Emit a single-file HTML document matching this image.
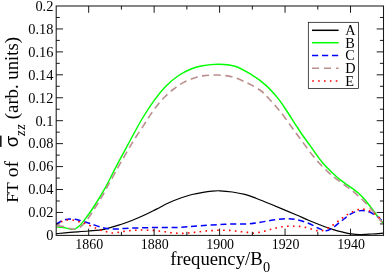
<!DOCTYPE html>
<html><head><meta charset="utf-8"><title>plot</title>
<style>
html,body{margin:0;padding:0;background:#fff;}
body{width:385px;height:273px;overflow:hidden;}
svg{display:block;font-family:"Liberation Serif",serif;}
</style></head>
<body>
<svg width="385" height="273" viewBox="0 0 385 273">
<rect width="385" height="273" fill="#fff"/>
<g fill="none" stroke-linejoin="round">
<path d="M56.20 233.70 C58.50 233.48 64.63 232.85 70.00 232.40 C75.37 231.95 82.73 231.52 88.40 231.00 C94.07 230.48 98.48 230.43 104.00 229.30 C109.52 228.17 116.67 225.75 121.50 224.20 C126.33 222.65 129.25 221.48 133.00 220.00 C136.75 218.52 140.08 217.12 144.00 215.30 C147.92 213.48 152.35 211.18 156.50 209.10 C160.65 207.02 164.75 204.68 168.90 202.80 C173.05 200.92 177.55 199.18 181.40 197.80 C185.25 196.42 188.40 195.42 192.00 194.50 C195.60 193.58 199.67 192.87 203.00 192.30 C206.33 191.73 209.18 191.35 212.00 191.10 C214.82 190.85 216.52 190.65 219.90 190.80 C223.28 190.95 228.15 191.40 232.30 192.00 C236.45 192.60 240.85 193.37 244.80 194.40 C248.75 195.43 251.63 196.57 256.00 198.20 C260.37 199.83 264.33 201.43 271.00 204.20 C277.67 206.97 289.75 212.13 296.00 214.80 C302.25 217.47 304.33 218.47 308.50 220.20 C312.67 221.93 316.85 223.63 321.00 225.20 C325.15 226.77 329.57 228.40 333.40 229.60 C337.23 230.80 341.12 231.70 344.00 232.40 C346.88 233.10 348.13 233.43 350.70 233.80 C353.27 234.17 355.85 234.57 359.40 234.60 C362.95 234.63 367.98 234.23 372.00 234.00 C376.02 233.77 381.58 233.33 383.50 233.20" stroke="#000" stroke-width="1.2"/>
<path d="M56.80 227.00 C57.67 227.05 60.22 227.07 62.00 227.30 C63.78 227.53 65.57 228.07 67.50 228.40 C69.43 228.73 71.63 229.70 73.60 229.30 C75.57 228.90 77.43 227.63 79.30 226.00 C81.17 224.37 82.52 222.50 84.80 219.50 C87.08 216.50 89.67 213.15 93.00 208.00 C96.33 202.85 100.90 195.57 104.80 188.60 C108.70 181.63 112.13 174.30 116.40 166.20 C120.67 158.10 126.03 148.03 130.40 140.00 C134.77 131.97 138.57 124.68 142.60 118.00 C146.63 111.32 150.68 105.23 154.60 99.90 C158.52 94.57 162.10 90.07 166.10 86.00 C170.10 81.93 174.45 78.33 178.60 75.50 C182.75 72.67 187.02 70.63 191.00 69.00 C194.98 67.37 197.88 66.50 202.50 65.70 C207.12 64.90 213.30 64.12 218.70 64.20 C224.10 64.28 229.70 64.62 234.90 66.20 C240.10 67.78 244.82 70.58 249.90 73.70 C254.98 76.82 260.85 80.95 265.40 84.90 C269.95 88.85 274.02 93.63 277.20 97.40 C280.38 101.17 281.27 102.70 284.50 107.50 C287.73 112.30 293.62 121.62 296.60 126.20 C299.58 130.78 300.08 131.68 302.40 135.00 C304.72 138.32 307.17 141.52 310.50 146.10 C313.83 150.68 318.37 157.68 322.40 162.50 C326.43 167.32 331.70 172.10 334.70 175.00 C337.70 177.90 338.45 178.35 340.40 179.90 C342.35 181.45 344.37 182.85 346.40 184.30 C348.43 185.75 350.57 187.10 352.60 188.60 C354.63 190.10 356.73 191.65 358.60 193.30 C360.47 194.95 362.18 196.72 363.80 198.50 C365.42 200.28 366.67 201.92 368.30 204.00 C369.93 206.08 372.08 208.98 373.60 211.00 C375.12 213.02 375.82 214.12 377.40 216.10 C378.98 218.08 382.15 221.77 383.10 222.90" stroke="#00ff00" stroke-width="1.45"/>
<path d="M56.30 224.00 C57.25 223.47 59.77 221.63 62.00 220.80 C64.23 219.97 66.87 219.10 69.70 219.00 C72.53 218.90 75.62 219.45 79.00 220.20 C82.38 220.95 85.83 222.20 90.00 223.50 C94.17 224.80 99.67 227.08 104.00 228.00 C108.33 228.92 112.00 228.97 116.00 229.00 C120.00 229.03 122.00 228.43 128.00 228.20 C134.00 227.97 143.83 227.73 152.00 227.60 C160.17 227.47 169.00 227.70 177.00 227.40 C185.00 227.10 192.00 226.33 200.00 225.80 C208.00 225.27 217.00 224.53 225.00 224.20 C233.00 223.87 242.08 224.12 248.00 223.80 C253.92 223.48 256.33 222.93 260.50 222.30 C264.67 221.67 268.85 220.58 273.00 220.00 C277.15 219.42 281.57 218.88 285.40 218.80 C289.23 218.72 292.15 218.75 296.00 219.50 C299.85 220.25 304.77 221.83 308.50 223.30 C312.23 224.77 315.48 227.05 318.40 228.30 C321.32 229.55 323.70 230.80 326.00 230.80 C328.30 230.80 330.13 229.55 332.20 228.30 C334.27 227.05 336.43 224.85 338.40 223.30 C340.37 221.75 342.15 220.45 344.00 219.00 C345.85 217.55 347.55 215.82 349.50 214.60 C351.45 213.38 353.62 212.38 355.70 211.70 C357.78 211.02 359.92 210.53 362.00 210.50 C364.08 210.47 366.13 210.82 368.20 211.50 C370.27 212.18 372.53 213.47 374.40 214.60 C376.27 215.73 377.88 216.98 379.40 218.30 C380.92 219.62 382.82 221.80 383.50 222.50" stroke="#0000ff" stroke-width="1.5" stroke-dasharray="6.1 3.7"/>
<path d="M56.80 225.80 C57.70 225.87 60.42 225.90 62.20 226.20 C63.98 226.50 65.60 227.08 67.50 227.60 C69.40 228.12 71.47 229.40 73.60 229.30 C75.73 229.20 78.12 228.47 80.30 227.00 C82.48 225.53 84.27 223.67 86.70 220.50 C89.13 217.33 92.32 212.05 94.90 208.00 C97.48 203.95 100.03 199.93 102.20 196.20 C104.37 192.47 106.02 189.03 107.90 185.60 C109.78 182.17 111.58 179.05 113.50 175.60 C115.42 172.15 117.38 168.48 119.40 164.90 C121.42 161.32 123.63 157.47 125.60 154.10 C127.57 150.73 129.30 147.83 131.20 144.70 C133.10 141.57 134.90 138.57 137.00 135.30 C139.10 132.03 141.60 128.47 143.80 125.10 C146.00 121.73 147.93 118.42 150.20 115.10 C152.47 111.78 154.95 108.25 157.40 105.20 C159.85 102.15 162.18 99.50 164.90 96.80 C167.62 94.10 170.58 91.40 173.70 89.00 C176.82 86.60 179.67 84.42 183.60 82.40 C187.53 80.38 193.57 78.05 197.30 76.90 C201.03 75.75 202.65 75.82 206.00 75.50 C209.35 75.18 213.00 74.77 217.40 75.00 C221.80 75.23 227.40 75.57 232.40 76.90 C237.40 78.23 242.70 80.73 247.40 83.00 C252.10 85.27 257.00 87.88 260.60 90.50 C264.20 93.12 266.30 95.88 269.00 98.70 C271.70 101.52 274.35 104.53 276.80 107.40 C279.25 110.27 281.23 112.63 283.70 115.90 C286.17 119.17 289.22 123.70 291.60 127.00 C293.98 130.30 295.76 132.63 298.00 135.70 C300.24 138.77 302.71 142.22 305.06 145.40 C307.41 148.58 309.68 151.78 312.10 154.80 C314.52 157.82 316.97 160.67 319.60 163.50 C322.23 166.33 325.20 169.27 327.90 171.80 C330.60 174.33 332.67 176.23 335.80 178.70 C338.93 181.17 343.28 184.03 346.70 186.60 C350.12 189.17 352.98 191.20 356.30 194.10 C359.62 197.00 363.17 200.35 366.60 204.00 C370.03 207.65 374.17 212.80 376.90 216.00 C379.63 219.20 381.98 222.00 383.00 223.20" stroke="#bc8f8f" stroke-width="1.6" stroke-dasharray="7.3 4.44" stroke-dashoffset="-0.3"/>
<path d="M56.30 224.50 C57.18 224.00 59.78 222.25 61.60 221.50 C63.42 220.75 65.22 220.22 67.20 220.00 C69.18 219.78 71.53 219.92 73.50 220.20 C75.47 220.48 77.13 221.18 79.00 221.70 C80.87 222.22 82.82 222.62 84.70 223.30 C86.58 223.98 88.48 225.02 90.30 225.80 C92.12 226.58 93.82 227.27 95.60 228.00 C97.38 228.73 99.18 229.58 101.00 230.20 C102.82 230.82 104.67 231.23 106.50 231.70 C108.33 232.17 110.03 232.88 112.00 233.00 C113.97 233.12 116.30 232.67 118.30 232.40 C120.30 232.13 122.05 231.70 124.00 231.40 C125.95 231.10 128.03 230.80 130.00 230.60 C131.97 230.40 133.90 230.30 135.80 230.20 C137.70 230.10 139.47 230.00 141.40 230.00 C143.33 230.00 145.43 230.13 147.40 230.20 C149.37 230.27 151.27 230.27 153.20 230.40 C155.13 230.53 157.03 230.77 159.00 231.00 C160.97 231.23 163.00 231.52 165.00 231.80 C167.00 232.08 169.00 232.47 171.00 232.70 C173.00 232.93 175.08 233.08 177.00 233.20 C178.92 233.32 180.60 233.43 182.50 233.40 C184.40 233.37 186.42 233.17 188.40 233.00 C190.38 232.83 192.47 232.62 194.40 232.40 C196.33 232.18 198.07 231.93 200.00 231.70 C201.93 231.47 204.00 231.18 206.00 231.00 C208.00 230.82 210.00 230.73 212.00 230.60 C214.00 230.47 216.00 230.27 218.00 230.20 C220.00 230.13 222.05 230.17 224.00 230.20 C225.95 230.23 227.78 230.27 229.70 230.40 C231.62 230.53 233.55 230.78 235.50 231.00 C237.45 231.22 239.42 231.47 241.40 231.70 C243.38 231.93 245.47 232.13 247.40 232.40 C249.33 232.67 251.13 233.30 253.00 233.30 C254.87 233.30 256.73 232.75 258.60 232.40 C260.47 232.05 262.27 231.67 264.20 231.20 C266.13 230.73 268.23 230.13 270.20 229.60 C272.17 229.07 274.03 228.47 276.00 228.00 C277.97 227.53 280.00 227.10 282.00 226.80 C284.00 226.50 286.00 226.30 288.00 226.20 C290.00 226.10 292.08 226.17 294.00 226.20 C295.92 226.23 297.60 226.20 299.50 226.40 C301.40 226.60 303.45 226.97 305.40 227.40 C307.35 227.83 309.27 228.47 311.20 229.00 C313.13 229.53 315.13 230.33 317.00 230.60 C318.87 230.87 320.60 231.03 322.40 230.60 C324.20 230.17 326.03 228.93 327.80 228.00 C329.57 227.07 331.33 226.08 333.00 225.00 C334.67 223.92 336.23 222.67 337.80 221.50 C339.37 220.33 340.83 219.15 342.40 218.00 C343.97 216.85 345.50 215.65 347.20 214.60 C348.90 213.55 350.77 212.53 352.60 211.70 C354.43 210.87 356.33 210.02 358.20 209.60 C360.07 209.18 361.88 208.98 363.80 209.20 C365.72 209.42 367.93 210.15 369.70 210.90 C371.47 211.65 372.88 212.68 374.40 213.70 C375.92 214.72 377.37 215.70 378.80 217.00 C380.23 218.30 382.30 220.75 383.00 221.50" stroke="#ff0000" stroke-width="1.6" stroke-dasharray="1.6 4.3" stroke-dashoffset="0.6"/>
</g>
<rect x="56.20" y="6.00" width="327.30" height="229.40" fill="none" stroke="#1a1a1a" stroke-width="1.05"/>
<path d="M56.20 223.93 h3.60 M383.50 223.93 h-3.60 M56.20 212.46 h6.80 M383.50 212.46 h-6.80 M56.20 200.99 h3.60 M383.50 200.99 h-3.60 M56.20 189.52 h6.80 M383.50 189.52 h-6.80 M56.20 178.05 h3.60 M383.50 178.05 h-3.60 M56.20 166.58 h6.80 M383.50 166.58 h-6.80 M56.20 155.11 h3.60 M383.50 155.11 h-3.60 M56.20 143.64 h6.80 M383.50 143.64 h-6.80 M56.20 132.17 h3.60 M383.50 132.17 h-3.60 M56.20 120.70 h6.80 M383.50 120.70 h-6.80 M56.20 109.23 h3.60 M383.50 109.23 h-3.60 M56.20 97.76 h6.80 M383.50 97.76 h-6.80 M56.20 86.29 h3.60 M383.50 86.29 h-3.60 M56.20 74.82 h6.80 M383.50 74.82 h-6.80 M56.20 63.35 h3.60 M383.50 63.35 h-3.60 M56.20 51.88 h6.80 M383.50 51.88 h-6.80 M56.20 40.41 h3.60 M383.50 40.41 h-3.60 M56.20 28.94 h6.80 M383.50 28.94 h-6.80 M56.20 17.47 h3.60 M383.50 17.47 h-3.60 M88.68 235.40 v-6.80 M88.68 6.00 v6.80 M121.41 235.40 v-3.60 M121.41 6.00 v3.60 M154.14 235.40 v-6.80 M154.14 6.00 v6.80 M186.87 235.40 v-3.60 M186.87 6.00 v3.60 M219.60 235.40 v-6.80 M219.60 6.00 v6.80 M252.33 235.40 v-3.60 M252.33 6.00 v3.60 M285.06 235.40 v-6.80 M285.06 6.00 v6.80 M317.79 235.40 v-3.60 M317.79 6.00 v3.60 M350.52 235.40 v-6.80 M350.52 6.00 v6.80" stroke="#000" stroke-width="0.9" fill="none"/>
<g font-size="14.4px" fill="#000">
<text x="53.4" y="240.25" text-anchor="end">0</text>
<text x="53.4" y="217.31" text-anchor="end">0.02</text>
<text x="53.4" y="194.37" text-anchor="end">0.04</text>
<text x="53.4" y="171.43" text-anchor="end">0.06</text>
<text x="53.4" y="148.49" text-anchor="end">0.08</text>
<text x="53.4" y="125.55" text-anchor="end">0.1</text>
<text x="53.4" y="102.61" text-anchor="end">0.12</text>
<text x="53.4" y="79.67" text-anchor="end">0.14</text>
<text x="53.4" y="56.73" text-anchor="end">0.16</text>
<text x="53.4" y="33.79" text-anchor="end">0.18</text>
<text x="53.4" y="10.85" text-anchor="end">0.2</text>
<text x="89.23" y="248.7" text-anchor="middle" font-size="13.9px">1860</text>
<text x="154.69" y="248.7" text-anchor="middle" font-size="13.9px">1880</text>
<text x="220.15" y="248.7" text-anchor="middle" font-size="13.9px">1900</text>
<text x="285.61" y="248.7" text-anchor="middle" font-size="13.9px">1920</text>
<text x="351.07" y="248.7" text-anchor="middle" font-size="13.9px">1940</text>
</g>
<rect x="308.3" y="22.3" width="50.2" height="66.1" fill="#fff" stroke="#000" stroke-width="0.7"/>
<path d="M312 30.30 H338.6" stroke="#000" stroke-width="1.5" fill="none"/>
<text x="345.2" y="34.80" font-size="14.3px">A</text>
<path d="M312 42.70 H338.6" stroke="#00ff00" stroke-width="1.5" fill="none"/>
<text x="345.2" y="47.90" font-size="14.3px">B</text>
<path d="M312 55.50 H338.6" stroke="#0000ff" stroke-dasharray="6.2 3.8" stroke-width="1.5" fill="none"/>
<text x="345.2" y="60.30" font-size="14.3px">C</text>
<path d="M312 68.30 H338.6" stroke="#bc8f8f" stroke-dasharray="7 5" stroke-width="1.5" fill="none"/>
<text x="345.2" y="72.90" font-size="14.3px">D</text>
<path d="M312 80.90 H338.6" stroke="#ff0000" stroke-dasharray="1.6 4.3" stroke-dashoffset="-0.2" stroke-width="1.5" fill="none"/>
<text x="345.2" y="85.50" font-size="14.3px">E</text>

<g font-size="18.5px" fill="#000">
<text x="170.3" y="264.6" font-size="18.7px">frequency/B</text>
<text x="262.9" y="271.8" font-size="14.3px">0</text>
<g transform="translate(18 0) rotate(-90)">
<text x="-202.7" y="0" font-size="17.6px">FT</text>
<text x="-177.3" y="0" font-size="19.6px">of</text>
<text x="-147.2" y="0" font-family="'Liberation Sans',sans-serif" font-size="18.6px">σ</text>
<text x="-136.0" y="6.8" font-size="14.2px" font-style="italic" letter-spacing="0.8">zz</text>
<text x="-119.2" y="0" font-size="18.76px">(arb. units)</text>
</g>
</g>
<rect x="0" y="135.6" width="1.6" height="11.3" fill="#1a1a1a"/>
</svg>
</body></html>
